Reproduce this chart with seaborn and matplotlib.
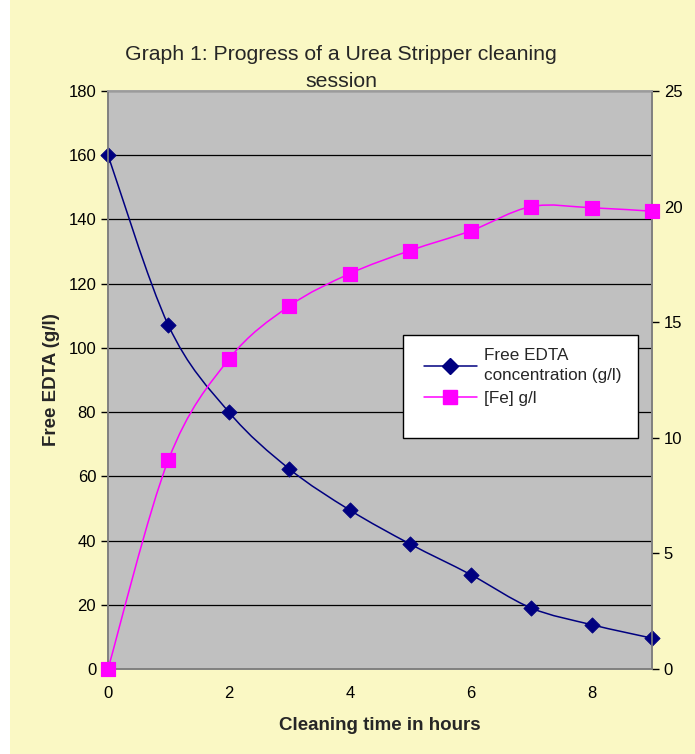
import numpy as np
import matplotlib
matplotlib.use('Agg')
import matplotlib.pyplot as plt
from matplotlib.path import Path
from matplotlib.patches import PathPatch, Rectangle
from matplotlib.lines import Line2D
import seaborn as sns

# Data
hours = [0, 1, 2, 3, 4, 5, 6, 7, 8, 9]
edta = [160, 107, 80, 62.3, 49.5, 38.9, 29.4, 19, 13.8, 9.6]      # g/l, left axis
iron = [0, 9.05, 13.4, 15.7, 17.1, 18.1, 18.95, 20.0, 19.95, 19.8]  # g/l, right axis

title = 'Graph 1: Progress of a Urea Stripper cleaning\nsession'
edta_label = 'Free EDTA\nconcentration (g/l)'
iron_label = '[Fe] g/l'

NAVY = '#000080'
MAGENTA = '#FF00FF'
PANEL = '#FAF8C4'

sns.set_style('white')
plt.rcParams['font.family'] = ['Liberation Sans', 'DejaVu Sans']


def smooth_path(x, y):
    # Excel style smoothed line: cubic bezier segments through the points
    x = np.asarray(x, float)
    y = np.asarray(y, float)
    px = np.concatenate([[x[0]], x, [x[-1]]])
    py = np.concatenate([[y[0]], y, [y[-1]]])
    verts = [(x[0], y[0])]
    codes = [Path.MOVETO]
    for i in range(1, len(px) - 2):
        c1 = (px[i] + (px[i + 1] - px[i - 1]) / 6, py[i] + (py[i + 1] - py[i - 1]) / 6)
        c2 = (px[i + 1] - (px[i + 2] - px[i]) / 6, py[i + 1] - (py[i + 2] - py[i]) / 6)
        verts += [c1, c2, (px[i + 1], py[i + 1])]
        codes += [Path.CURVE4] * 3
    return Path(verts, codes)


fig = plt.figure(figsize=(6.95, 7.54), dpi=100)
fig.patch.set_facecolor('white')
fig.patches.append(Rectangle((10 / 695, 0), 1, 1, transform=fig.transFigure,
                             facecolor=PANEL, edgecolor='none', zorder=-10))

ax = fig.add_axes([108 / 695, 1 - 669 / 754, 544 / 695, 578 / 754])
ax.set_facecolor('#C0C0C0')
ax2 = ax.twinx()

# EDTA on left axis
ax.add_patch(PathPatch(smooth_path(hours, edta), facecolor='none', edgecolor=NAVY,
                       lw=1.1, zorder=3, clip_on=False))
sns.scatterplot(x=hours, y=edta, ax=ax, marker='D', color=NAVY, s=60,
                edgecolor=NAVY, zorder=4, clip_on=False, legend=False)

# Iron on right axis
ax2.add_patch(PathPatch(smooth_path(hours, iron), facecolor='none', edgecolor=MAGENTA,
                        lw=1.1, zorder=3, clip_on=False))
sns.scatterplot(x=hours, y=iron, ax=ax2, marker='s', color=MAGENTA, s=110,
                edgecolor=MAGENTA, zorder=4, clip_on=False, legend=False)

ax.set_xlim(0, 9)
ax.set_ylim(0, 180)
ax2.set_ylim(0, 25)
ax.set_xticks([0, 2, 4, 6, 8])
ax.set_yticks(np.arange(0, 181, 20))
ax2.set_yticks(np.arange(0, 26, 5))
ax.grid(axis='y', color='black', lw=0.9)
ax.set_axisbelow(True)

for a in (ax, ax2):
    for s in a.spines.values():
        s.set_color('#808080')
        s.set_linewidth(1.2)
    a.spines['top'].set_color('#A0A0A0')
    a.tick_params(direction='out', length=5, width=1, colors='black', labelsize=12)
ax.tick_params(axis='x', pad=7)

ax.set_xlabel('Cleaning time in hours', fontsize=13.5, fontweight='bold', labelpad=12)
ax.set_ylabel('Free EDTA (g/l)', fontsize=13.5, fontweight='bold', labelpad=6)
fig.text(341 / 695, 1 - 68 / 754, title, fontsize=15.3, ha='center', va='center',
         linespacing=1.5)

# legend box (Excel leaves empty room under the entries)
box = Rectangle((403 / 695, 1 - 438 / 754), 235 / 695, 103 / 754,
                transform=fig.transFigure, facecolor='white', edgecolor='black',
                lw=1, zorder=5)
fig.patches.append(box)
handles = [
    Line2D([], [], color=NAVY, marker='D', markersize=8, lw=1.1),
    Line2D([], [], color=MAGENTA, marker='s', markersize=10, lw=1.1),
]
leg = fig.legend(handles, [edta_label, iron_label], loc='upper left',
                 bbox_to_anchor=(412 / 695, 1 - 336 / 754), fontsize=12.3,
                 frameon=False, handlelength=3.1, handletextpad=0.4,
                 borderpad=0.2, labelspacing=0.45)
for t in leg.get_texts():
    t.set_linespacing(1.45)
leg.set_zorder(10)

fig.savefig('out.png', dpi=100)
